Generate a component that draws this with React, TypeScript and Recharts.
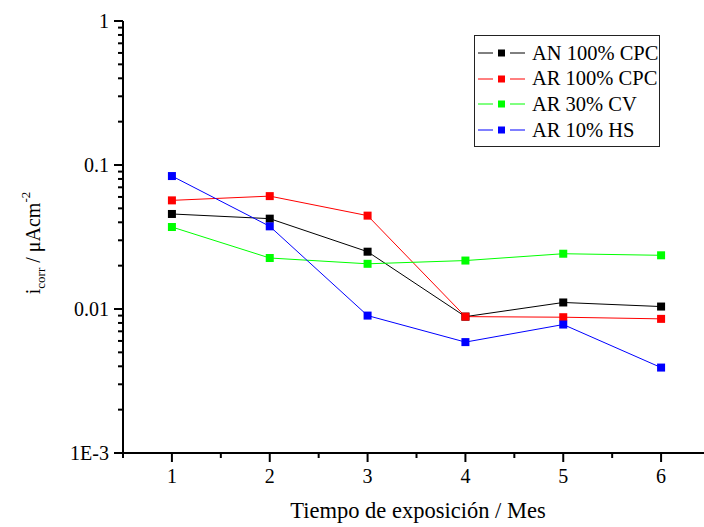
import { LineChart, Line, XAxis, YAxis, Legend } from 'recharts';

const months = [1, 2, 3, 4, 5, 6];
const anCpc = [0.0457, 0.0424, 0.025, 0.00885, 0.0111, 0.0104];
const arCpc = [0.0568, 0.0608, 0.0445, 0.00885, 0.00877, 0.00854];
const ar30Cv = [0.0371, 0.0226, 0.0206, 0.0217, 0.0242, 0.0236];
const ar10Hs = [0.0838, 0.0375, 0.009, 0.00589, 0.0078, 0.00392];

const xTicks = [0.5, 1, 1.5, 2, 2.5, 3, 3.5, 4, 4.5, 5, 5.5, 6, 6.5];
const yTicks = [
  0.001, 0.002, 0.003, 0.004, 0.005, 0.006, 0.007, 0.008, 0.009,
  0.01, 0.02, 0.03, 0.04, 0.05, 0.06, 0.07, 0.08, 0.09,
  0.1, 0.2, 0.3, 0.4, 0.5, 0.6, 0.7, 0.8, 0.9, 1,
];
const yLabels: Record<string, string> = { '0.001': '1E-3', '0.01': '0.01', '0.1': '0.1', '1': '1' };

const series = [
  { key: 'an', name: 'AN 100% CPC', color: '#000000' },
  { key: 'ar', name: 'AR 100% CPC', color: '#ff0000' },
  { key: 'cv', name: 'AR 30% CV', color: '#00ff00' },
  { key: 'hs', name: 'AR 10% HS', color: '#0000ff' },
];

const data = months.map((m, i) => ({
  month: m,
  an: anCpc[i],
  ar: arCpc[i],
  cv: ar30Cv[i],
  hs: ar10Hs[i],
}));

const FONT = "'Liberation Serif', 'Times New Roman', serif";

const XTick = (props: any) => {
  const { x, y, payload } = props;
  const major = Number.isInteger(payload.value);
  return (
    <g>
      <line x1={x} x2={x} y1={y} y2={y + (major ? 9 : 5)} stroke="#000" strokeWidth={2} />
      {major && (
        <text x={x} y={y + 30} textAnchor="middle" fontSize={20} fontFamily={FONT} fill="#000">
          {payload.value}
        </text>
      )}
    </g>
  );
};

const YTick = (props: any) => {
  const { x, y, payload } = props;
  const label = yLabels[String(payload.value)];
  return (
    <g>
      <line x1={x - (label ? 9 : 5)} x2={x} y1={y} y2={y} stroke="#000" strokeWidth={2} />
      {label && (
        <text x={x - 14} y={y} dy={7} textAnchor="end" fontSize={20} fontFamily={FONT} fill="#000">
          {label}
        </text>
      )}
    </g>
  );
};

const Square = (props: any) => {
  const { cx, cy, stroke } = props;
  if (cx == null || cy == null) return null;
  return <rect x={cx - 4} y={cy - 4} width={8} height={8} fill={stroke} />;
};

const LegendBox = () => (
  <div
    style={{
      border: '1px solid #222',
      width: 184,
      padding: '4px 0 3px 0',
      background: '#fff',
      fontFamily: FONT,
      fontSize: 20.5,
      color: '#000',
      whiteSpace: 'nowrap',
    }}
  >
    {series.map((s) => (
      <div key={s.key} style={{ display: 'flex', alignItems: 'center', height: 25.8 }}>
        <svg width={55} height={14} style={{ marginLeft: 2, flexShrink: 0 }}>
          <line x1={1} x2={16} y1={7} y2={7} stroke={s.color} strokeWidth={1} />
          <rect x={21} y={3.5} width={7} height={7} fill={s.color} />
          <line x1={33} x2={48} y1={7} y2={7} stroke={s.color} strokeWidth={1} />
        </svg>
        <span style={{ lineHeight: 1 }}>{s.name}</span>
      </div>
    ))}
  </div>
);

const XLabel = () => (
  <text x={418} y={518} textAnchor="middle" fontSize={22.5} fontFamily={FONT} fill="#000">
    Tiempo de exposición / Mes
  </text>
);

const YLabel = () => (
  <text
    x={40}
    y={243}
    transform="rotate(-90, 40, 243)"
    textAnchor="middle"
    fontSize={20}
    fontFamily={FONT}
    fill="#000"
  >
    i
    <tspan fontSize={13} dy={5}>corr</tspan>
    <tspan dy={-5}> / μAcm</tspan>
    <tspan fontSize={13} dy={-10}>-2</tspan>
  </text>
);

export default function App() {
  return (
    <div style={{ position: 'fixed', left: 0, top: 0, width: 704, height: 527, overflow: 'hidden', background: '#fff' }}>
      <LineChart width={720} height={527} data={data} margin={{ top: 21, right: 10, bottom: 34, left: 43 }}>
        <XAxis
          dataKey="month"
          type="number"
          domain={[0.5, 6.5]}
          ticks={xTicks}
          interval={0}
          height={40}
          tickSize={0}
          tickMargin={0}
          tickLine={false}
          axisLine={{ stroke: '#000', strokeWidth: 2 }}
          tick={<XTick />}
          label={<XLabel />}
        />
        <YAxis
          scale="log"
          domain={[0.001, 1]}
          allowDataOverflow
          ticks={yTicks}
          interval={0}
          width={80}
          tickSize={0}
          tickMargin={0}
          tickLine={false}
          axisLine={{ stroke: '#000', strokeWidth: 2 }}
          tick={<YTick />}
          label={<YLabel />}
        />
        <Legend
          layout="horizontal"
          verticalAlign="middle"
          align="center"
          wrapperStyle={{ position: 'absolute', left: 474, top: 35, width: 'auto' }}
          content={() => <LegendBox />}
        />
        {series.map((s) => (
          <Line
            key={s.key}
            dataKey={s.key}
            name={s.name}
            stroke={s.color}
            strokeWidth={1}
            type="linear"
            dot={<Square />}
            activeDot={false}
            isAnimationActive={false}
          />
        ))}
      </LineChart>
    </div>
  );
}
